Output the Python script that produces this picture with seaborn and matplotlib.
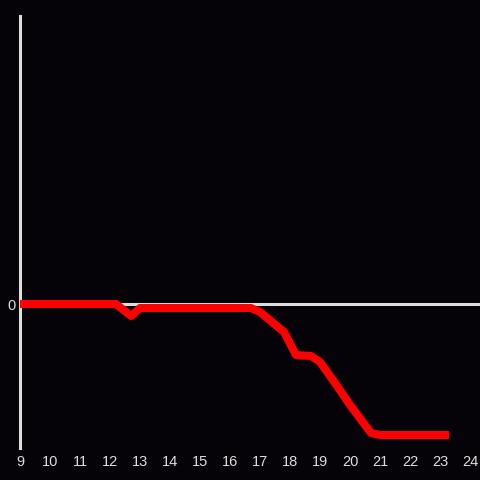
import matplotlib
matplotlib.use('Agg')
import matplotlib.pyplot as plt
import seaborn as sns
import pandas as pd

# readings
hours = [9, 12.2, 12.7, 13.0, 16.7, 17.0, 17.8, 18.2, 18.7, 19.0, 19.5, 20.0, 20.7, 21.0, 23.3]
values = [0, 0, -12, -4, -4, -8, -28, -51, -52, -58, -79, -101, -129, -131, -131]
x_ticks = list(range(9, 25))

bg = '#050307'
fg = '#dddddd'

sns.set_style('dark')
plt.rcParams['font.family'] = ['Liberation Sans', 'DejaVu Sans']

df = pd.DataFrame({'hour': hours, 'value': values})

fig = plt.figure(figsize=(4.8, 4.8), dpi=100, facecolor=bg)
ax = fig.add_axes([20 / 480, 32 / 480, 460 / 480, 432 / 480])
ax.set_facecolor(bg)

ax.axhline(0, color=fg, lw=2.2, zorder=1)
sns.lineplot(data=df, x='hour', y='value', color='#ff0000', lw=5.8, ax=ax,
             zorder=3, solid_joinstyle='round', solid_capstyle='butt')

ax.set_xlim(9, 9 + 460 / 30)
ax.set_ylim(-144, 288)
ax.set_xticks(x_ticks)
ax.set_xticklabels([str(t) for t in x_ticks])
ax.set_yticks([0])
ax.set_yticklabels(['0'])
ax.tick_params(colors=fg, labelsize=10.5, length=0, pad=5)
ax.tick_params(axis='y', pad=3)
ax.set_xlabel('')
ax.set_ylabel('')
ax.grid(False)

for side in ['top', 'right', 'bottom']:
    ax.spines[side].set_visible(False)
ax.spines['left'].set_color(fg)
ax.spines['left'].set_linewidth(2.2)

fig.savefig('out.png', dpi=100, facecolor=bg)
